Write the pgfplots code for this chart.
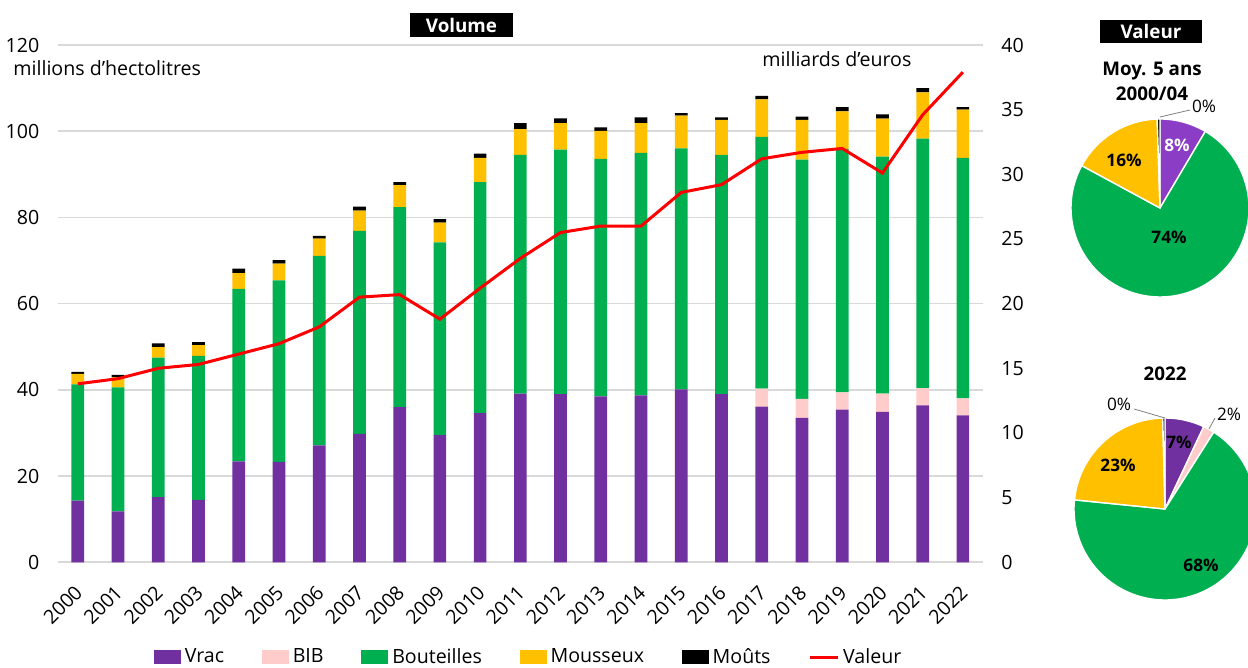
\documentclass[border=0pt]{standalone}
\usepackage{fontspec}
\setmainfont{Open Sans}
\usepackage{pgfplots}
\usepackage{pgfplotstable}
\pgfplotsset{compat=1.18}

\definecolor{vrac}{HTML}{7030A0}
\definecolor{vracl}{HTML}{8B3DC6}
\definecolor{bib}{HTML}{FFCCCC}
\definecolor{bout}{HTML}{00B050}
\definecolor{mous}{HTML}{FFC000}
\definecolor{gridgray}{HTML}{D9D9D9}

\newcommand{\fs}{\fontsize{9.8}{11}\selectfont}
\newcommand{\fp}{\fontsize{8.6}{10}\selectfont}
\newcommand{\fpb}{\fontsize{8.6}{10}\selectfont\bfseries}
\newcommand{\fb}{\fontsize{9.4}{12.5}\selectfont\bfseries}

% share of the pie, from and to (percent, clockwise from 12 o'clock)
\newcommand{\slice}[4]{%
  \fill[#3, draw=white, line width=0.7pt] (axis cs:0,0) -- (axis cs:{cos(90-3.6*#1)},{sin(90-3.6*#1)})
    arc[start angle={90-3.6*#1}, end angle={90-3.6*#2}, radius=#4] -- cycle;}

\pgfplotstableread{
x year vrac bib bout mous mouts valeur
0  2000 14.3 0   27.0 2.4  0.5 13.8
1  2001 11.8 0   28.8 2.3  0.6 14.2
2  2002 15.1 0   32.4 2.4  0.9 15.0
3  2003 14.5 0   33.4 2.5  0.7 15.3
4  2004 23.4 0   40.0 3.7  1.0 16.1
5  2005 23.3 0   42.1 3.9  0.8 16.9
6  2006 27.1 0   44.0 4.0  0.6 18.2
7  2007 29.8 0   47.1 4.7  0.9 20.5
8  2008 36.0 0   46.4 5.1  0.7 20.7
9  2009 29.5 0   44.7 4.6  0.8 18.8
10 2010 34.6 0   53.6 5.6  1.0 21.2
11 2011 39.1 0   55.4 6.0  1.4 23.5
12 2012 39.0 0   56.7 6.2  1.1 25.5
13 2013 38.5 0   55.1 6.5  0.8 26.0
14 2014 38.7 0   56.3 6.9  1.3 26.0
15 2015 40.1 0   55.9 7.6  0.6 28.6
16 2016 39.0 0   55.5 8.1  0.6 29.2
17 2017 36.1 4.2 58.4 8.7  0.8 31.2
18 2018 33.5 4.4 55.5 9.2  0.8 31.7
19 2019 35.4 4.0 56.5 8.7  1.0 32.0
20 2020 34.9 4.2 55.0 8.8  1.0 30.1
21 2021 36.4 4.0 57.9 10.7 1.0 34.6
22 2022 34.1 3.9 55.8 11.2 0.6 37.9
}\data

\begin{document}
\begin{tikzpicture}[x=0.5pt, y=0.5pt]
\useasboundingbox (0,0) rectangle (1248,668);

\begin{axis}[
  at={(28.85pt,52.85pt)}, anchor=south west,
  scale only axis, width=462.65pt, height=258.65pt,
  ybar stacked, bar width=6.35pt,
  xmin=-0.5, xmax=22.5, ymin=0, ymax=120,
  xtick={0,...,22},
  xticklabels={2000,2001,2002,2003,2004,2005,2006,2007,2008,2009,2010,2011,2012,2013,2014,2015,2016,2017,2018,2019,2020,2021,2022},
  ytick={0,20,...,120},
  ymajorgrids, grid style={draw=gridgray, line width=0.8pt},
  axis line style={draw=none}, major tick style={draw=none},
  /pgf/number format/assume math mode=true,
  tick label style={font=\fs},
  yticklabel style={anchor=east, inner sep=0pt, xshift=-9pt},
  xticklabel style={rotate=45, anchor=north east, inner sep=0pt, yshift=-6pt, xshift=-9pt},
  legend image code/.code={\fill[#1] (0pt,-3.5pt) rectangle (13.5pt,3.5pt);},
  legend style={at={(0.51,-0.184)}, anchor=center, draw=none, font=\fs,
    legend columns=6, /tikz/every even column/.append style={column sep=16.8pt},
    inner sep=0pt},
]
\addplot[fill=vrac, draw=none] table[x=x, y=vrac]{\data};
\addplot[fill=bib, draw=none] table[x=x, y=bib]{\data};
\addplot[fill=bout, draw=none] table[x=x, y=bout]{\data};
\addplot[fill=mous, draw=none] table[x=x, y=mous]{\data};
\addplot[fill=black, draw=none] table[x=x, y=mouts]{\data};
\addlegendimage{legend image code/.code={\draw[red, line width=1.5pt] (0pt,0pt) -- (14pt,0pt);}}
\legend{Vrac, BIB, Bouteilles, Mousseux, Moûts, Valeur}
\end{axis}

\begin{axis}[
  at={(28.85pt,52.85pt)}, anchor=south west,
  scale only axis, width=462.65pt, height=258.65pt,
  xmin=-0.5, xmax=22.5, ymin=0, ymax=40,
  axis y line*=right, hide x axis,
  ytick={0,5,...,40},
  axis line style={draw=none}, major tick style={draw=none},
  /pgf/number format/assume math mode=true,
  tick label style={font=\fs},
  yticklabel style={anchor=west, inner sep=0pt, xshift=9pt},
]
\addplot[red, line width=1.5pt, mark=none] table[x=x, y=valeur]{\data};
\end{axis}

% pie: mean 2000/04
\begin{axis}[at={(580pt,230pt)}, anchor=center, scale only axis, width=89pt, height=89pt,
  hide axis, xmin=-1, xmax=1, ymin=-1, ymax=1, clip=false]
\slice{0}{8.5}{vracl}{44.5pt}
\slice{8.5}{82.9}{bout}{44.5pt}
\slice{82.9}{99.5}{mous}{44.5pt}
\slice{99.5}{100}{black}{44.5pt}
\end{axis}

% pie: 2022
\begin{axis}[at={(582.5pt,79.5pt)}, anchor=center, scale only axis, width=91pt, height=91pt,
  hide axis, xmin=-1, xmax=1, ymin=-1, ymax=1, clip=false]
\slice{0}{7.0}{vrac}{45.5pt}
\slice{7.0}{9.0}{bib}{45.5pt}
\slice{9.0}{76.6}{bout}{45.5pt}
\slice{76.6}{99.6}{mous}{45.5pt}
\slice{99.6}{100}{black}{45.5pt}
\end{axis}

% titles
\node[fill=black, text=white, font=\fb, minimum width=51.5pt, minimum height=12pt, inner sep=0pt] at (461.5,643) {Volume};
\node[fill=black, text=white, font=\fb, minimum width=51pt, minimum height=11.5pt, inner sep=0pt] at (1151,636.5) {Valeur};
\node[anchor=west, font=\fs, inner sep=0pt] at (13,600) {millions d’hectolitres};
\node[anchor=west, font=\fs, inner sep=0pt] at (762,609) {milliards d’euros};
\node[font=\fb, align=center, inner sep=0pt] at (1152,587) {Moy. 5 ans\\2000/04};
\node[font=\fb, inner sep=0pt] at (1165,294) {2022};

% pie labels
\node[font=\fpb, text=white, inner sep=0pt] at (1177,523) {8\%};
\node[font=\fpb, inner sep=0pt] at (1169,431) {74\%};
\node[font=\fpb, inner sep=0pt] at (1124,508) {16\%};
\draw[gray, line width=0.4pt] (1160,551) -- (1190,558);
\node[font=\fp, inner sep=0pt] at (1204,562) {0\%};

\node[font=\fpb, inner sep=0pt] at (1179,226) {7\%};
\node[font=\fpb, inner sep=0pt] at (1118,203) {23\%};
\node[font=\fpb, inner sep=0pt] at (1201,103) {68\%};
\draw[gray, line width=0.4pt] (1165,250) -- (1134,259);
\node[font=\fp, inner sep=0pt] at (1119,264) {0\%};
\draw[gray, line width=0.4pt] (1209,239) -- (1215,250);
\node[font=\fp, inner sep=0pt] at (1229,254) {2\%};
\end{tikzpicture}
\end{document}
